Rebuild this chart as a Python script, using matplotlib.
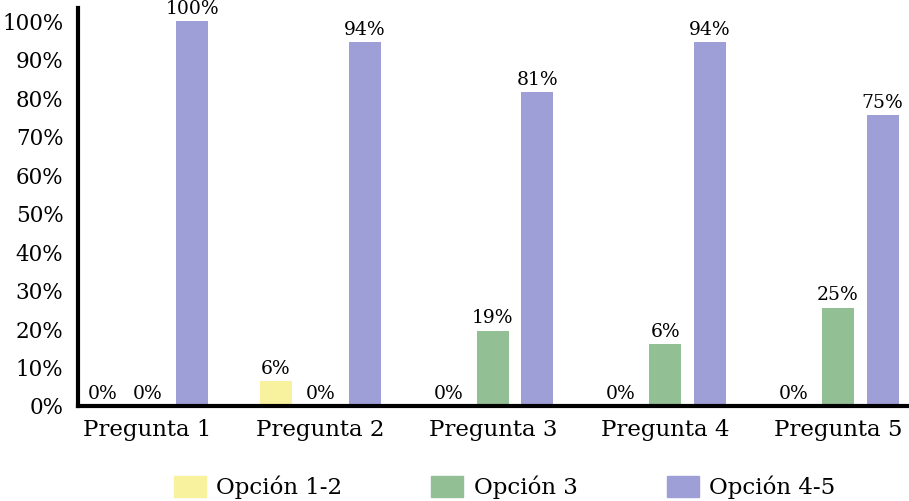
import numpy as np
import matplotlib.pyplot as plt
from matplotlib.patches import Patch

plt.rcParams['font.family'] = ['DejaVu Serif']

preguntas = ['Pregunta 1', 'Pregunta 2', 'Pregunta 3', 'Pregunta 4', 'Pregunta 5']
series = ['Opción 1-2', 'Opción 3', 'Opción 4-5']
op12 = [0, 6.5, 0, 0, 0]
op3 = [0, 0, 19.5, 16, 25.5]
op45 = [100, 94.5, 81.5, 94.5, 75.5]
# labels as printed on the chart (P4 green bar says 6%)
lab12 = ['0%', '6%', '0%', '0%', '0%']
lab3 = ['0%', '0%', '19%', '6%', '25%']
lab45 = ['100%', '94%', '81%', '94%', '75%']
colores = ['#f8f19d', '#93bf95', '#9f9fd8']

fig = plt.figure(figsize=(9.09, 5.01), dpi=100)
ax = fig.add_axes([78/909, 1-406/501, 831/909, 398/501])

x = np.arange(len(preguntas))
w = 0.185
off = 0.258
for k, (vals, labs) in enumerate(zip([op12, op3, op45], [lab12, lab3, lab45])):
    xs = x + (k-1)*off
    bars = ax.bar(xs, vals, w, color=colores[k], zorder=2)
    for b, t in zip(bars, labs):
        ax.text(b.get_x()+b.get_width()/2, b.get_height()+0.9, t,
                ha='center', va='bottom', fontsize=13.5)

ax.set_xlim(-0.403, 4.411)
ax.set_ylim(0, 103.4)
ax.set_yticks(np.arange(0, 101, 10))
ax.set_yticklabels([f'{v}%' for v in range(0, 101, 10)], fontsize=15.5)
ax.set_xticks(x)
ax.set_xticklabels(preguntas, fontsize=16.5)
ax.tick_params(axis='y', length=0, pad=10.5)
ax.tick_params(axis='x', length=0, pad=9.5)
for s in ['top', 'right']:
    ax.spines[s].set_visible(False)
ax.spines['left'].set_linewidth(3)
ax.spines['bottom'].set_linewidth(3)

handles = [Patch(color=c) for c in colores]
fig.legend(handles, series, loc='lower center', bbox_to_anchor=(0.555, 0.003),
           ncol=3, frameon=False, fontsize=16.5, handlelength=1.4, handleheight=1.05,
           columnspacing=3.91, handletextpad=0.44, borderpad=0, borderaxespad=0)

fig.savefig('out.png', dpi=100)
